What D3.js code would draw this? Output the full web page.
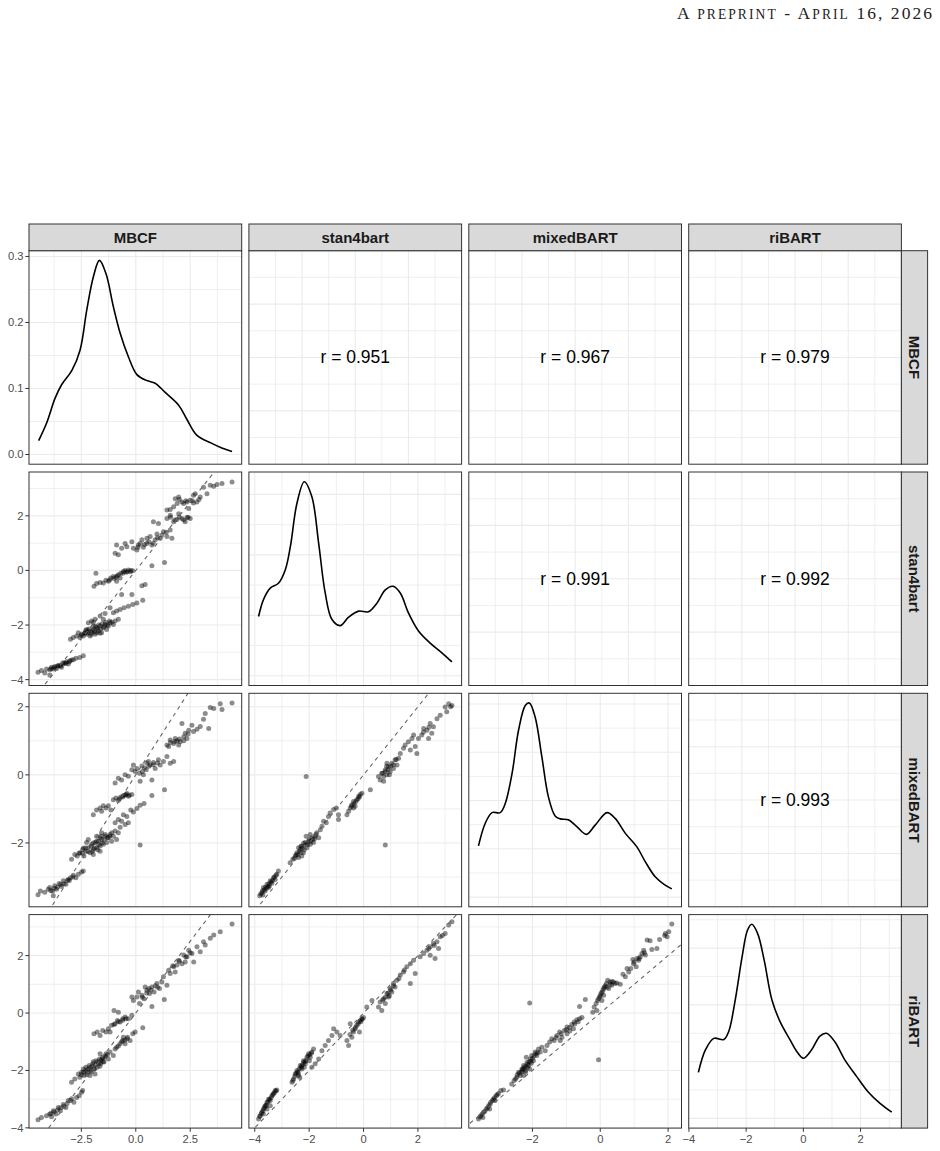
<!DOCTYPE html>
<html><head><meta charset="utf-8">
<script src="https://cdn.jsdelivr.net/npm/d3@7"></script>
<style>body{margin:0;background:#fff} svg{display:block}</style>
</head><body>
<svg id="c" width="940" height="1151"></svg>
<script>
// ---------- DATA ----------
const variables = ["MBCF", "stan4bart", "mixedBART", "riBART"];
const tickMajor = {MBCF:[-2.5,0,2.5], stan4bart:[-4,-2,0,2], mixedBART:[-2,0,2], riBART:[-4,-2,0,2]};
const tickMinor = {MBCF:[-3.75,-1.25,1.25,3.75], stan4bart:[-3,-1,1,3], mixedBART:[-3,-1,1], riBART:[-3,-1,1,3]};
const tickLabels = {MBCF:["−2.5","0.0","2.5"], stan4bart:["−4","−2","0","2"], mixedBART:["−2","0","2"], riBART:["−4","−2","0","2"]};
const densTicks = [0,0.05,0.1,0.15,0.2,0.25,0.3,0.35,0.4];
const densTickLabels = ["0.0","0.1","0.2","0.3"];
const densLabelValues = [0,0.1,0.2,0.3];
const corrRows = [0,0,0,1,1,2];
const corrCols = [1,2,3,2,3,3];
const corrText = ["r = 0.951","r = 0.967","r = 0.979","r = 0.991","r = 0.992","r = 0.993"];

const dens_MBCF = [[-4.46,0.021],[-4.09,0.048],[-3.71,0.085],[-3.40,0.106],[-2.94,0.127],[-2.56,0.158],[-2.25,0.219],[-1.95,0.269],[-1.67,0.294],[-1.37,0.274],[-1.03,0.224],[-0.72,0.184],[-0.34,0.148],[0.05,0.121],[0.51,0.112],[0.89,0.108],[1.35,0.094],[1.96,0.075],[2.35,0.053],[2.81,0.029],[3.42,0.018],[3.95,0.010],[4.42,0.0045]];
const dens_stan4bart = [[-3.86,0.098],[-3.68,0.126],[-3.43,0.145],[-3.13,0.153],[-2.88,0.175],[-2.69,0.214],[-2.45,0.285],[-2.18,0.321],[-1.90,0.296],[-1.65,0.219],[-1.41,0.137],[-1.16,0.093],[-0.86,0.083],[-0.55,0.097],[-0.18,0.107],[0.18,0.106],[0.49,0.120],[0.80,0.142],[1.08,0.148],[1.35,0.137],[1.65,0.104],[2.02,0.074],[2.45,0.054],[2.88,0.038],[3.25,0.023]];
const dens_mixedBART = [[-3.59,0.106],[-3.39,0.153],[-3.19,0.175],[-2.95,0.175],[-2.80,0.194],[-2.60,0.256],[-2.41,0.345],[-2.21,0.397],[-2.09,0.402],[-1.92,0.373],[-1.72,0.290],[-1.53,0.208],[-1.33,0.168],[-1.18,0.162],[-0.94,0.160],[-0.69,0.146],[-0.41,0.130],[-0.15,0.149],[0.20,0.175],[0.44,0.163],[0.74,0.132],[1.08,0.104],[1.33,0.073],[1.62,0.042],[1.87,0.027],[2.11,0.017]];
const dens_riBART = [[-3.67,0.081],[-3.42,0.121],[-3.13,0.141],[-2.78,0.139],[-2.61,0.153],[-2.38,0.209],[-2.14,0.285],[-1.95,0.332],[-1.80,0.342],[-1.60,0.326],[-1.37,0.279],[-1.10,0.209],[-0.81,0.170],[-0.46,0.138],[-0.23,0.118],[0.0,0.106],[0.29,0.121],[0.58,0.145],[0.81,0.150],[1.10,0.135],[1.45,0.103],[1.86,0.074],[2.26,0.047],[2.67,0.027],[3.09,0.011]];

// scatter: x = column variable, y = row variable
const pts_stan4bart_MBCF = [[-4.49,-3.73],[-4.33,-3.67],[-4.10,-3.61],[-3.95,-3.64],[-3.87,-3.55],[-3.79,-3.61],[-3.72,-3.52],[-3.64,-3.59],[-3.56,-3.49],[-3.49,-3.47],[-3.41,-3.55],[-3.33,-3.43],[-3.26,-3.39],[-3.18,-3.35],[-3.10,-3.43],[-3.03,-3.31],[-2.87,-3.27],[-2.75,-3.22],[-2.57,-3.19],[-2.41,-3.13],[-3.95,-3.83],[-4.18,-3.76],
[-3.00,-2.52],[-2.87,-2.46],[-2.72,-2.40],[-2.64,-2.28],[-2.57,-2.46],[-2.49,-2.34],[-2.41,-2.40],[-2.33,-2.28],[-2.26,-2.34],[-2.18,-2.22],[-2.10,-2.40],[-2.03,-2.28],[-1.95,-2.16],[-1.87,-2.34],[-1.80,-2.10],[-1.72,-2.22],[-1.64,-2.04],[-1.57,-2.28],[-1.49,-2.10],[-1.41,-1.98],[-1.34,-2.16],[-1.26,-2.04],[-1.18,-1.92],[-1.03,-1.98],[-0.95,-1.85],[-0.80,-1.79],[-2.18,-1.92],[-2.03,-1.85],[-1.87,-1.79],[-1.64,-1.67],[-1.41,-1.58],[-1.80,-2.28],[-1.95,-2.04],[-2.26,-2.16],[-1.49,-1.79],
[-1.03,-1.55],[-0.88,-1.49],[-0.72,-1.43],[-0.54,-1.37],[-0.34,-1.31],[-0.14,-1.25],[0.05,-1.19],[0.32,-1.09],[-0.65,-0.88],[-0.18,-0.88],[-1.18,-1.37],
[-1.92,-0.58],[-1.80,-0.48],[-1.64,-0.44],[-1.49,-0.46],[-1.37,-0.36],[-1.26,-0.40],[-1.15,-0.28],[-1.03,-0.22],[-0.91,-0.24],[-0.80,-0.16],[-0.69,-0.10],[-0.57,-0.04],[-0.45,-0.07],[-0.34,0.02],[-0.23,0.00],[-0.14,-0.01],[-1.83,-0.10],[0.28,-0.56],[0.43,-0.52],[-0.88,-0.40],[-0.72,-0.28],
[-0.95,0.63],[-0.80,0.57],[-0.88,0.93],[-0.65,0.81],[-0.41,0.87],[-0.18,1.05],[-0.11,0.81],[0.05,0.75],[0.12,0.93],[0.28,1.12],[0.35,0.85],[0.51,0.99],[0.66,1.24],[0.74,0.93],[0.89,1.12],[0.97,1.33],[1.12,1.18],[1.27,1.42],[1.43,1.24],[1.58,1.48],[1.66,1.18],[0.74,0.17],[1.32,0.29],[0.20,0.99],[0.51,1.18],[-0.49,0.99],
[1.43,1.90],[1.58,2.02],[1.74,1.78],[1.89,1.87],[1.97,2.08],[2.12,1.90],[2.27,1.78],[2.35,1.94],[2.50,1.90],[1.43,2.21],[1.58,2.23],[1.74,2.33],[1.81,2.63],[1.97,2.69],[2.12,2.51],[2.20,2.45],[2.35,2.51],[2.50,2.57],[2.65,2.47],[2.81,2.51],[2.73,2.81],[2.96,2.69],[3.11,3.05],[3.27,2.81],[3.42,3.12],[3.58,3.08],[3.73,3.15],[3.96,3.18],[4.42,3.24],[0.81,1.78],[1.04,1.72],[2.43,2.27],[2.65,2.75],
[-2.5,-2.38],[-2.35,-2.30],[-2.2,-2.28],[-2.15,-2.15],[-2.0,-2.2],[-1.9,-2.25],[-1.85,-2.05],[-1.75,-2.15],[-1.7,-2.0],[-1.6,-2.15],[-1.55,-1.95],[-1.45,-2.05],[-1.38,-1.9],[-1.3,-2.0],[-1.2,-1.85],[-1.1,-1.9],[-2.05,-2.35],[-1.65,-2.3],[-2.3,-2.2],[-1.95,-1.9],
[-3.9,-3.6],[-3.75,-3.56],[-3.6,-3.5],[-3.45,-3.5],[-3.35,-3.38],[-3.2,-3.4],[-3.05,-3.35],[-2.95,-3.28],
[-1.2,-0.35],[-1.0,-0.3],[-0.85,-0.2],[-0.6,-0.1],[-0.4,-0.05],[-0.5,0.0],[-0.25,-0.05],
[0.6,1.05],[0.8,1.0],[1.0,1.2],[1.2,1.3],[1.4,1.4],[0.4,0.95],[0.1,0.85],
[1.6,1.95],[1.8,1.85],[2.0,1.95],[2.2,1.85],[2.4,1.95],[2.0,2.6],[2.3,2.55],[2.6,2.55],[2.9,2.6],[1.9,2.45]];

const pts_mixedBART_MBCF = [[-4.49,-3.52],[-4.38,-3.41],[-4.18,-3.45],[-4.02,-3.36],[-3.95,-3.31],[-3.82,-3.41],[-3.72,-3.26],[-3.64,-3.36],[-3.52,-3.19],[-3.41,-3.28],[-3.33,-3.11],[-3.21,-3.21],[-3.10,-3.07],[-3.00,-3.02],[-2.87,-2.95],[-2.75,-3.02],[-2.64,-2.92],[-2.49,-2.85],[-2.41,-2.82],[-3.79,-3.55],
[-2.95,-2.48],[-2.80,-2.34],[-2.69,-2.38],[-2.57,-2.29],[-2.44,-2.19],[-2.38,-2.38],[-2.29,-2.24],[-2.18,-2.14],[-2.10,-2.29],[-2.03,-2.04],[-1.95,-2.19],[-1.87,-1.99],[-1.80,-2.14],[-1.72,-1.95],[-1.64,-2.09],[-1.57,-1.90],[-1.49,-2.04],[-1.41,-1.80],[-1.34,-1.99],[-1.26,-1.85],[-1.18,-1.75],[-1.11,-1.95],[-1.03,-1.80],[-0.95,-1.65],[-0.88,-1.90],[-0.80,-1.70],[-1.80,-1.80],[-1.57,-1.70],[-1.95,-2.34],[-2.18,-1.90],[0.20,-2.06],[-1.64,-2.24],[-2.26,-1.99],
[-0.95,-1.41],[-0.80,-1.31],[-0.65,-1.36],[-0.57,-1.17],[-0.41,-1.22],[-0.34,-1.41],[-0.23,-1.03],[-0.11,-1.09],[0.05,-0.99],[0.20,-0.89],[0.38,-0.84],[0.74,-0.61],[-0.49,-1.46],[-0.72,-1.54],
[-1.95,-1.17],[-1.80,-1.03],[-1.64,-0.97],[-1.49,-0.91],[-1.37,-0.97],[-1.26,-0.91],[-1.14,-1.03],[-1.03,-0.73],[-0.91,-0.68],[-0.80,-0.75],[-0.69,-0.65],[-0.57,-0.61],[-0.45,-0.58],[-0.34,-0.63],[-0.18,-0.58],[-1.57,-1.07],
[-0.95,-0.24],[-0.80,-0.10],[-0.65,-0.15],[-0.49,0.00],[-0.34,-0.04],[-0.18,0.15],[-0.11,0.29],[0.05,0.19],[0.17,0.05],[0.28,0.26],[0.35,0.00],[0.48,0.15],[0.58,0.39],[0.66,0.29],[0.81,0.36],[0.89,0.19],[1.04,0.44],[1.12,0.29],[1.27,0.39],[1.43,0.54],[1.58,0.34],[1.74,0.39],[1.32,-0.44],[0.74,-0.15],[0.20,-0.19],[-0.03,0.10],
[1.43,0.88],[1.58,1.02],[1.74,0.92],[1.81,1.07],[1.97,0.88],[2.04,0.97],[2.20,1.12],[2.27,1.22],[2.35,1.07],[2.43,1.31],[2.58,1.46],[2.65,1.27],[2.81,1.34],[2.96,1.42],[3.11,1.63],[3.19,1.80],[3.35,1.36],[3.42,1.98],[3.58,1.95],[3.88,2.09],[3.96,1.92],[4.42,2.11],[1.51,0.83],[2.12,1.51],
[-2.6,-2.3],[-2.45,-2.3],[-2.3,-2.15],[-2.2,-2.25],[-2.05,-2.1],[-1.95,-2.0],[-1.9,-2.15],[-1.8,-1.95],[-1.7,-2.05],[-1.65,-1.85],[-1.55,-2.0],[-1.45,-1.9],[-1.4,-1.75],[-1.3,-1.85],[-1.2,-1.8],[-1.1,-1.7],[-2.0,-2.25],[-1.75,-2.2],[-2.4,-2.15],[-1.6,-1.8],
[-3.9,-3.4],[-3.75,-3.33],[-3.6,-3.3],[-3.45,-3.22],[-3.3,-3.2],[-3.15,-3.1],[-3.05,-3.1],[-2.9,-3.0],
[-0.75,-0.7],[-0.6,-0.65],[-0.5,-0.6],[-0.4,-0.55],[-0.3,-0.6],
[0.4,0.2],[0.6,0.25],[0.8,0.3],[0.5,0.35],[1.0,0.35],[0.3,0.1],
[1.6,0.95],[1.8,0.98],[2.0,1.05],[2.2,1.0],[1.9,1.0],[2.4,1.2]];

const pts_mixedBART_stan4bart = [[-3.82,-3.55],[-3.74,-3.46],[-3.68,-3.31],[-3.62,-3.41],[-3.55,-3.21],[-3.49,-3.31],[-3.43,-3.11],[-3.37,-3.18],[-3.31,-3.02],[-3.25,-3.07],[-3.19,-2.92],[-3.13,-2.82],[-3.58,-3.34],[-3.46,-3.26],[-3.70,-3.53],
[-2.70,-2.58],[-2.60,-2.48],[-2.51,-2.38],[-2.45,-2.29],[-2.39,-2.43],[-2.33,-2.19],[-2.27,-2.09],[-2.21,-2.29],[-2.14,-1.99],[-2.08,-2.14],[-2.02,-1.95],[-1.96,-2.04],[-1.90,-1.85],[-1.84,-1.99],[-1.78,-1.80],[-1.72,-1.70],[-1.65,-1.85],[-1.59,-1.61],[-2.27,-2.38],[-2.11,-1.80],[-2.39,-2.14],[-1.96,-1.75],
[-1.53,-1.51],[-1.47,-1.36],[-1.37,-1.41],[-1.29,-1.22],[-1.23,-1.12],[-1.10,-1.02],[-1.00,-0.97],[-0.92,-1.17],[-0.92,-1.31],[-2.11,-0.05],[0.80,-2.06],
[-0.61,-1.17],[-0.55,-1.07],[-0.49,-0.97],[-0.43,-0.88],[-0.37,-0.78],[-0.31,-0.92],[-0.25,-0.73],[-0.18,-0.63],[-0.12,-0.58],[-0.06,-0.54],[-0.37,-0.97],[0.25,-0.44],
[0.55,-0.05],[0.61,-0.15],[0.67,0.05],[0.74,-0.19],[0.80,0.15],[0.86,0.00],[0.92,0.24],[0.98,0.10],[1.04,0.34],[1.10,0.19],[1.16,0.44],[1.23,0.29],[1.29,0.49],[1.35,0.63],[1.47,0.78],[1.53,0.88],[1.65,0.97],[1.72,0.73],[1.96,0.63],[1.90,0.83],[0.86,0.34],[0.74,-0.05],
[1.78,1.07],[1.84,1.17],[2.02,1.07],[2.14,1.17],[2.21,1.36],[2.33,1.31],[2.45,1.51],[2.57,1.41],[2.51,1.22],[2.70,1.65],[2.82,1.75],[3.00,1.99],[3.06,1.85],[3.13,2.09],[3.25,2.04],[2.39,1.07],
[-3.78,-3.5],[-3.72,-3.4],[-3.66,-3.38],[-3.6,-3.3],[-3.52,-3.28],[-3.48,-3.2],[-3.4,-3.15],[-3.35,-3.1],[-3.28,-3.0],[-3.22,-2.95],
[-2.55,-2.45],[-2.48,-2.35],[-2.42,-2.35],[-2.36,-2.25],[-2.3,-2.28],[-2.25,-2.15],[-2.18,-2.2],[-2.12,-2.05],[-2.05,-2.05],[-2.0,-1.9],[-1.93,-1.95],[-1.87,-1.9],[-1.8,-1.88],[-1.75,-1.75],[-2.2,-2.0],[-2.3,-2.1],
[-0.45,-0.92],[-0.35,-0.85],[-0.28,-0.78],[-0.2,-0.7],[-0.15,-0.65],
[0.7,0.05],[0.8,0.1],[0.9,0.15],[1.0,0.25],[1.1,0.3],[0.85,0.25],[0.95,0.0],[1.2,0.45],
[2.2,1.25],[2.4,1.4],[3.2,2.0]];

const pts_riBART_MBCF = [[-4.49,-3.72],[-4.33,-3.64],[-4.10,-3.58],[-3.95,-3.52],[-3.79,-3.40],[-3.67,-3.52],[-3.56,-3.29],[-3.46,-3.40],[-3.33,-3.19],[-3.21,-3.29],[-3.10,-3.05],[-2.95,-2.99],[-2.84,-3.11],[-2.72,-2.94],[-2.60,-2.88],[-2.49,-2.76],[-2.44,-2.70],[-3.87,-3.61],
[-2.95,-2.41],[-2.80,-2.30],[-2.64,-2.12],[-2.57,-2.24],[-2.49,-2.06],[-2.38,-2.18],[-2.29,-1.89],[-2.23,-2.06],[-2.14,-1.83],[-2.07,-2.00],[-1.98,-1.77],[-1.92,-1.95],[-1.83,-1.66],[-1.77,-1.89],[-1.67,-1.60],[-1.61,-1.77],[-1.52,-1.54],[-1.46,-1.71],[-1.37,-1.42],[-1.26,-1.60],[-1.18,-1.36],[-1.03,-1.48],[-0.95,-1.25],[-1.87,-2.12],[-2.10,-2.18],[-1.64,-1.42],[-2.41,-1.95],
[-0.88,-1.19],[-0.72,-1.07],[-0.60,-0.96],[-0.49,-1.07],[-0.38,-0.84],[-0.26,-0.96],[-0.14,-0.72],[-0.03,-0.66],[0.32,-0.51],[-0.57,-0.84],
[-1.92,-0.72],[-1.77,-0.66],[-1.64,-0.78],[-1.52,-0.61],[-1.37,-0.66],[-1.26,-0.55],[-1.11,-0.43],[-0.95,-0.37],[-0.84,-0.26],[-0.72,-0.31],[-0.60,-0.20],[-0.49,-0.14],[-0.34,-0.20],[-0.18,-0.08],[-1.00,0.09],[-0.80,0.03],[-1.18,-0.66],
[-0.11,0.44],[0.05,0.56],[0.17,0.33],[0.28,0.62],[0.38,0.50],[0.51,0.79],[0.63,0.68],[0.74,0.91],[0.84,0.73],[0.97,1.03],[1.09,0.85],[1.20,1.08],[1.31,0.47],[0.74,0.23],[0.43,0.91],[0.12,0.73],[-0.18,0.56],[1.43,0.97],[1.27,1.26],[1.51,1.49],
[1.58,1.38],[1.74,1.61],[1.89,1.67],[1.97,1.84],[2.12,1.72],[2.20,2.02],[2.35,1.96],[2.43,2.19],[2.58,2.07],[2.81,2.31],[2.96,2.13],[3.11,2.48],[3.19,2.37],[3.42,2.60],[3.58,2.72],[3.88,2.83],[4.42,3.10],[1.81,1.43],[2.66,1.78],[2.27,1.78],
[-2.5,-2.15],[-2.4,-2.05],[-2.3,-2.0],[-2.2,-1.95],[-2.1,-1.9],[-2.0,-1.85],[-1.95,-1.7],[-1.85,-1.8],[-1.75,-1.7],[-1.7,-1.75],[-1.6,-1.65],[-1.55,-1.6],[-1.45,-1.55],[-1.4,-1.5],[-1.3,-1.45],[-2.25,-2.15],[-1.9,-1.95],[-2.05,-2.05],[-1.65,-1.85],[-1.5,-1.7],
[-3.9,-3.5],[-3.75,-3.45],[-3.6,-3.38],[-3.45,-3.3],[-3.3,-3.25],[-3.15,-3.15],[-3.0,-3.05],
[-0.8,-1.15],[-0.65,-1.0],[-0.5,-0.95],[-0.4,-0.9],[-1.0,-0.4],[-0.8,-0.3],[-0.6,-0.25],[-0.45,-0.2],
[0.3,0.55],[0.5,0.7],[0.7,0.8],[0.9,0.95],[1.0,0.9],[0.6,0.85],
[2.0,1.8],[2.3,1.95],[2.5,2.1],[1.7,1.65]];

const pts_riBART_stan4bart = [[-3.86,-3.69],[-3.80,-3.58],[-3.74,-3.46],[-3.68,-3.34],[-3.62,-3.23],[-3.55,-3.11],[-3.49,-3.00],[-3.43,-3.05],[-3.37,-2.88],[-3.31,-2.80],[-3.25,-2.70],[-3.19,-2.68],[-3.68,-3.52],[-3.55,-3.34],[-3.43,-3.23],
[-2.63,-2.41],[-2.57,-2.30],[-2.51,-2.12],[-2.45,-2.00],[-2.39,-2.18],[-2.33,-1.83],[-2.27,-1.95],[-2.21,-1.66],[-2.14,-1.77],[-2.08,-1.54],[-2.02,-1.42],[-1.96,-1.54],[-1.90,-1.36],[-1.84,-1.25],[-2.35,-2.24],[-2.18,-1.89],[-1.99,-1.66],
[-1.90,-1.89],[-1.78,-1.77],[-1.65,-1.60],[-1.53,-1.31],[-1.41,-1.13],[-1.29,-0.96],[-1.16,-0.78],[-1.10,-0.55],[-0.98,-0.66],[-0.86,-0.78],[-0.49,-0.37],
[-0.61,-0.96],[-0.55,-1.13],[-0.43,-0.84],[-0.37,-0.66],[-0.31,-0.55],[-0.25,-0.43],[-0.18,-0.31],[-0.12,-0.26],[-0.06,-0.20],[0.00,-0.16],[-0.15,-0.66],[0.12,0.21],[0.31,0.44],
[0.55,0.21],[0.61,0.38],[0.67,0.09],[0.74,0.50],[0.80,0.33],[0.86,0.68],[0.92,0.56],[0.98,0.85],[1.04,0.73],[1.10,1.03],[1.23,1.14],[1.35,1.32],[1.47,1.43],[1.59,1.61],[1.72,1.72],[1.84,1.84],[1.90,1.38],[1.72,1.03],[1.16,0.91],
[2.08,1.96],[2.21,2.07],[2.33,2.19],[2.45,2.31],[2.57,2.42],[2.70,2.48],[2.76,2.25],[2.82,2.66],[3.00,2.77],[3.13,3.07],[3.25,3.18],[2.63,1.90],[2.45,2.01],
[-3.82,-3.6],[-3.76,-3.5],[-3.7,-3.4],[-3.65,-3.3],[-3.58,-3.2],[-3.52,-3.1],[-3.46,-3.0],[-3.4,-2.95],[-3.34,-2.85],[-3.28,-2.78],[-3.22,-2.72],[-3.6,-3.25],
[-2.6,-2.35],[-2.53,-2.2],[-2.48,-2.1],[-2.42,-2.05],[-2.37,-1.95],[-2.3,-1.9],[-2.25,-1.8],[-2.2,-1.72],[-2.12,-1.65],[-2.05,-1.5],[-1.98,-1.45],[-1.92,-1.4],[-2.4,-2.1],[-2.28,-1.85],[-2.15,-1.7],
[-0.3,-0.5],[-0.2,-0.38],[-0.1,-0.3],[-0.05,-0.22],[-0.4,-0.6],[-0.5,-0.75],
[0.7,0.45],[0.8,0.55],[0.9,0.7],[1.0,0.8],[1.1,0.95],[0.95,0.6],[1.3,1.2],[1.5,1.5],
[2.4,2.25],[2.6,2.35],[2.9,2.7]];

const pts_riBART_mixedBART = [[-3.59,-3.69],[-3.52,-3.58],[-3.44,-3.46],[-3.36,-3.34],[-3.29,-3.23],[-3.23,-3.11],[-3.15,-3.00],[-3.07,-2.88],[-3.00,-2.80],[-2.93,-2.70],[-2.85,-2.68],[-3.46,-3.64],[-3.26,-3.34],[-3.10,-3.05],
[-2.61,-2.47],[-2.54,-2.35],[-2.46,-2.24],[-2.41,-2.06],[-2.36,-2.18],[-2.31,-1.95],[-2.26,-1.83],[-2.21,-2.00],[-2.16,-1.72],[-2.11,-1.83],[-2.06,-1.60],[-2.02,-1.48],[-1.97,-1.66],[-1.92,-1.36],[-1.87,-1.48],[-1.82,-1.25],[-1.77,-1.36],[-1.72,-1.19],[-1.62,-1.31],[-1.57,-1.13],[-2.26,-2.18],[-2.08,-1.95],[-2.18,-1.54],[-2.08,0.35],
[-1.49,-1.01],[-1.43,-0.90],[-1.36,-0.96],[-1.28,-0.78],[-1.20,-0.66],[-1.13,-0.84],[-1.06,-0.61],[-0.98,-0.49],[-0.90,-0.63],[-0.84,-0.40],[-0.77,-0.31],[-0.69,-0.23],[-0.61,-0.20],[-0.54,-0.16],[-1.18,-0.96],[-0.98,-0.72],[-0.79,-0.55],[-0.44,0.47],[-0.61,0.23],[-0.05,-1.63],
[-0.22,0.03],[-0.18,0.21],[-0.12,0.33],[-0.08,0.44],[-0.02,0.56],[0.02,0.68],[0.08,0.79],[0.12,0.91],[0.18,1.03],[0.22,1.14],[0.29,1.08],[0.34,0.97],[0.39,1.08],[0.44,1.03],[0.49,1.05],[0.59,1.00],[-0.10,0.09],[0.10,0.62],[0.25,0.85],[0.05,0.44],[0.67,1.35],[0.74,1.26],
[0.84,1.43],[0.90,1.55],[0.98,1.72],[1.06,1.61],[1.13,1.84],[1.18,1.96],[1.23,2.07],[1.28,2.19],[1.33,2.02],[1.38,2.54],[1.47,2.52],[1.52,2.21],[1.67,2.25],[1.75,2.56],[1.92,2.77],[1.97,2.66],[2.02,2.83],[2.11,3.10],[0.79,1.55],[0.96,1.86],[1.08,1.90],
[-3.55,-3.62],[-3.48,-3.52],[-3.4,-3.42],[-3.32,-3.3],[-3.25,-3.18],[-3.18,-3.05],[-3.12,-2.95],[-3.04,-2.85],
[-2.5,-2.3],[-2.45,-2.15],[-2.38,-2.1],[-2.33,-2.05],[-2.28,-1.95],[-2.24,-1.9],[-2.2,-1.85],[-2.14,-1.78],[-2.1,-1.7],[-2.05,-1.68],[-2.0,-1.58],[-1.95,-1.5],[-1.9,-1.42],[-1.85,-1.38],[-2.3,-2.0],[-2.15,-1.9],[-2.03,-1.75],[-2.2,-2.05],
[-1.3,-0.85],[-1.15,-0.72],[-1.0,-0.58],[-0.9,-0.5],[-0.75,-0.38],[-0.65,-0.3],
[0.0,0.6],[0.05,0.72],[0.1,0.85],[0.15,0.95],[0.2,0.9],[0.3,1.0],[0.35,1.1],[-0.05,0.5],
[1.0,1.78],[1.15,1.9],[1.3,2.1],[1.9,2.7]];

// ---------- DRAW ----------
const svg = d3.select("#c");
const left0 = 29, colStep = 219.9, pw = 212.7;
const top0 = 250.7, rowStep = 221.3, ph = 213.5;
const densities = {MBCF: dens_MBCF, stan4bart: dens_stan4bart, mixedBART: dens_mixedBART, riBART: dens_riBART};
const scatter = {"1_0": pts_stan4bart_MBCF, "2_0": pts_mixedBART_MBCF, "2_1": pts_mixedBART_stan4bart,
                 "3_0": pts_riBART_MBCF, "3_1": pts_riBART_stan4bart, "3_2": pts_riBART_mixedBART};
const FONT = "'Liberation Sans', Arial, Helvetica, sans-serif";
function expand(e){ const s = (e[1]-e[0])*0.05; return [e[0]-s, e[1]+s]; }
const varDomain = variables.map(v => expand(d3.extent(densities[v], d => d[0])));
const xScales = variables.map((v,j) => d3.scaleLinear().domain(varDomain[j]).range([left0+j*colStep, left0+j*colStep+pw]));
const yScales = variables.map((v,i) => d3.scaleLinear().domain(varDomain[i]).range([top0+i*rowStep+ph, top0+i*rowStep]));
const densY = variables.map((v,i) => d3.scaleLinear().domain(expand([0, d3.max(densities[v], d => d[1])])).range([top0+i*rowStep+ph, top0+i*rowStep]));

const defs = svg.append("defs");
const GRID = "#ebebeb";
function inDom(s, v){ const d = s.domain(); return v >= Math.min(d[0],d[1]) && v <= Math.max(d[0],d[1]); }

for (let i = 0; i < 4; i++) {
  for (let j = 0; j < 4; j++) {
    const x0 = left0 + j*colStep, y0 = top0 + i*rowStep;
    const g = svg.append("g");
    const cid = `clip${i}${j}`;
    defs.append("clipPath").attr("id", cid).append("rect").attr("x", x0).attr("y", y0).attr("width", pw).attr("height", ph);
    g.append("rect").attr("x", x0).attr("y", y0).attr("width", pw).attr("height", ph).attr("fill", "#fff");
    const gg = g.append("g").attr("clip-path", `url(#${cid})`);
    const vline = (x, w) => gg.append("line").attr("x1", x).attr("x2", x).attr("y1", y0).attr("y2", y0+ph).attr("stroke", GRID).attr("stroke-width", w);
    const hline = (y, w) => gg.append("line").attr("y1", y).attr("y2", y).attr("x1", x0).attr("x2", x0+pw).attr("stroke", GRID).attr("stroke-width", w);
    if (i < j) {
      for (let k = 1; k < 8; k++) { vline(x0 + k*pw/8, k%2 ? 0.8 : 1.1); hline(y0 + k*ph/8, k%2 ? 0.8 : 1.1); }
      const idx = corrRows.findIndex((r, q) => r === i && corrCols[q] === j);
      g.append("text").attr("x", x0 + pw/2).attr("y", y0 + ph/2).attr("text-anchor", "middle").attr("dominant-baseline", "central")
        .attr("font-family", FONT).attr("font-size", 17.5).attr("fill", "#000").text(corrText[idx]);
    } else {
      const xs = xScales[j];
      tickMinor[variables[j]].filter(v => inDom(xs, v)).forEach(v => vline(xs(v), 0.8));
      tickMajor[variables[j]].filter(v => inDom(xs, v)).forEach(v => vline(xs(v), 1.1));
      if (i === j) {
        const ys = densY[i];
        densTicks.filter(v => inDom(ys, v)).forEach((v) => hline(ys(v), Math.round(v*100) % 10 === 0 ? 1.1 : 0.8));
        const line = d3.line().x(d => xs(d[0])).y(d => ys(d[1])).curve(d3.curveCatmullRom.alpha(0.5));
        gg.append("path").attr("d", line(densities[variables[i]])).attr("fill", "none").attr("stroke", "#000").attr("stroke-width", 1.6);
      } else {
        const ys = yScales[i];
        tickMinor[variables[i]].filter(v => inDom(ys, v)).forEach(v => hline(ys(v), 0.8));
        tickMajor[variables[i]].filter(v => inDom(ys, v)).forEach(v => hline(ys(v), 1.1));
        gg.selectAll("circle.p").data(scatter[`${i}_${j}`]).enter().append("circle")
          .attr("cx", d => xs(d[0])).attr("cy", d => ys(d[1])).attr("r", 2.5)
          .attr("fill", "#000").attr("fill-opacity", 0.45);
        gg.append("line").attr("x1", xs(-6)).attr("y1", ys(-6)).attr("x2", xs(6)).attr("y2", ys(6))
          .attr("stroke", "#666").attr("stroke-width", 1.1).attr("stroke-dasharray", "4,4");
      }
    }
    g.append("rect").attr("x", x0).attr("y", y0).attr("width", pw).attr("height", ph).attr("fill", "none").attr("stroke", "#333").attr("stroke-width", 1);
  }
}

// left axes
for (let i = 0; i < 4; i++) {
  let vals, labs, sc;
  if (i === 0) { sc = densY[0]; vals = densLabelValues; labs = densTickLabels; }
  else { sc = yScales[i]; vals = tickMajor[variables[i]]; labs = tickLabels[variables[i]]; }
  vals.forEach((v, k) => {
    if (!inDom(sc, v)) return;
    const y = sc(v);
    svg.append("line").attr("x1", left0 - 3.7).attr("x2", left0).attr("y1", y).attr("y2", y).attr("stroke", "#333").attr("stroke-width", 1);
    svg.append("text").attr("x", left0 - 5.5).attr("y", y).attr("text-anchor", "end").attr("dominant-baseline", "central")
      .attr("font-family", FONT).attr("font-size", 11.2).attr("fill", "#4d4d4d").text(labs[k]);
  });
}
// bottom axes
const yb = top0 + 3*rowStep + ph;
for (let j = 0; j < 4; j++) {
  const sc = xScales[j], v = variables[j];
  tickMajor[v].forEach((t, k) => {
    if (!inDom(sc, t)) return;
    const x = sc(t);
    svg.append("line").attr("x1", x).attr("x2", x).attr("y1", yb).attr("y2", yb + 3.7).attr("stroke", "#333").attr("stroke-width", 1);
    svg.append("text").attr("x", x).attr("y", yb + 15.3).attr("text-anchor", "middle")
      .attr("font-family", FONT).attr("font-size", 11.2).attr("fill", "#4d4d4d").text(tickLabels[v][k]);
  });
}
// top strips
variables.forEach((v, j) => {
  const x0 = left0 + j*colStep;
  svg.append("rect").attr("x", x0).attr("y", 224).attr("width", pw).attr("height", top0 - 224).attr("fill", "#d9d9d9").attr("stroke", "#333").attr("stroke-width", 1);
  svg.append("text").attr("x", x0 + pw/2).attr("y", (224 + top0)/2).attr("text-anchor", "middle").attr("dominant-baseline", "central")
    .attr("font-family", FONT).attr("font-weight", "bold").attr("font-size", 15).attr("fill", "#1a1a1a").text(v);
});
// right strips
const sx = left0 + 3*colStep + pw, sw = 26.2;
variables.forEach((v, i) => {
  const y0 = top0 + i*rowStep;
  svg.append("rect").attr("x", sx).attr("y", y0).attr("width", sw).attr("height", ph).attr("fill", "#d9d9d9").attr("stroke", "#333").attr("stroke-width", 1);
  svg.append("text").attr("transform", `translate(${sx + sw/2},${y0 + ph/2}) rotate(90)`).attr("text-anchor", "middle").attr("dominant-baseline", "central")
    .attr("font-family", FONT).attr("font-weight", "bold").attr("font-size", 15).attr("fill", "#1a1a1a").text(v);
});
// header (small caps built from tspans)
const headerParts = [["A",17.5],[" PREPRINT",13.6],[" - ",17.5],["A",17.5],["PRIL",13.6],[" 16, 2026",17.5]];
const ht = svg.append("text").attr("x", 932).attr("y", 18.5).attr("text-anchor", "end")
  .attr("font-family", "'Liberation Serif', 'DejaVu Serif', serif").attr("fill", "#222")
  .attr("textLength", 255).attr("lengthAdjust", "spacing");
headerParts.forEach(p => ht.append("tspan").attr("font-size", p[1]).text(p[0]));
</script>
</body></html>
